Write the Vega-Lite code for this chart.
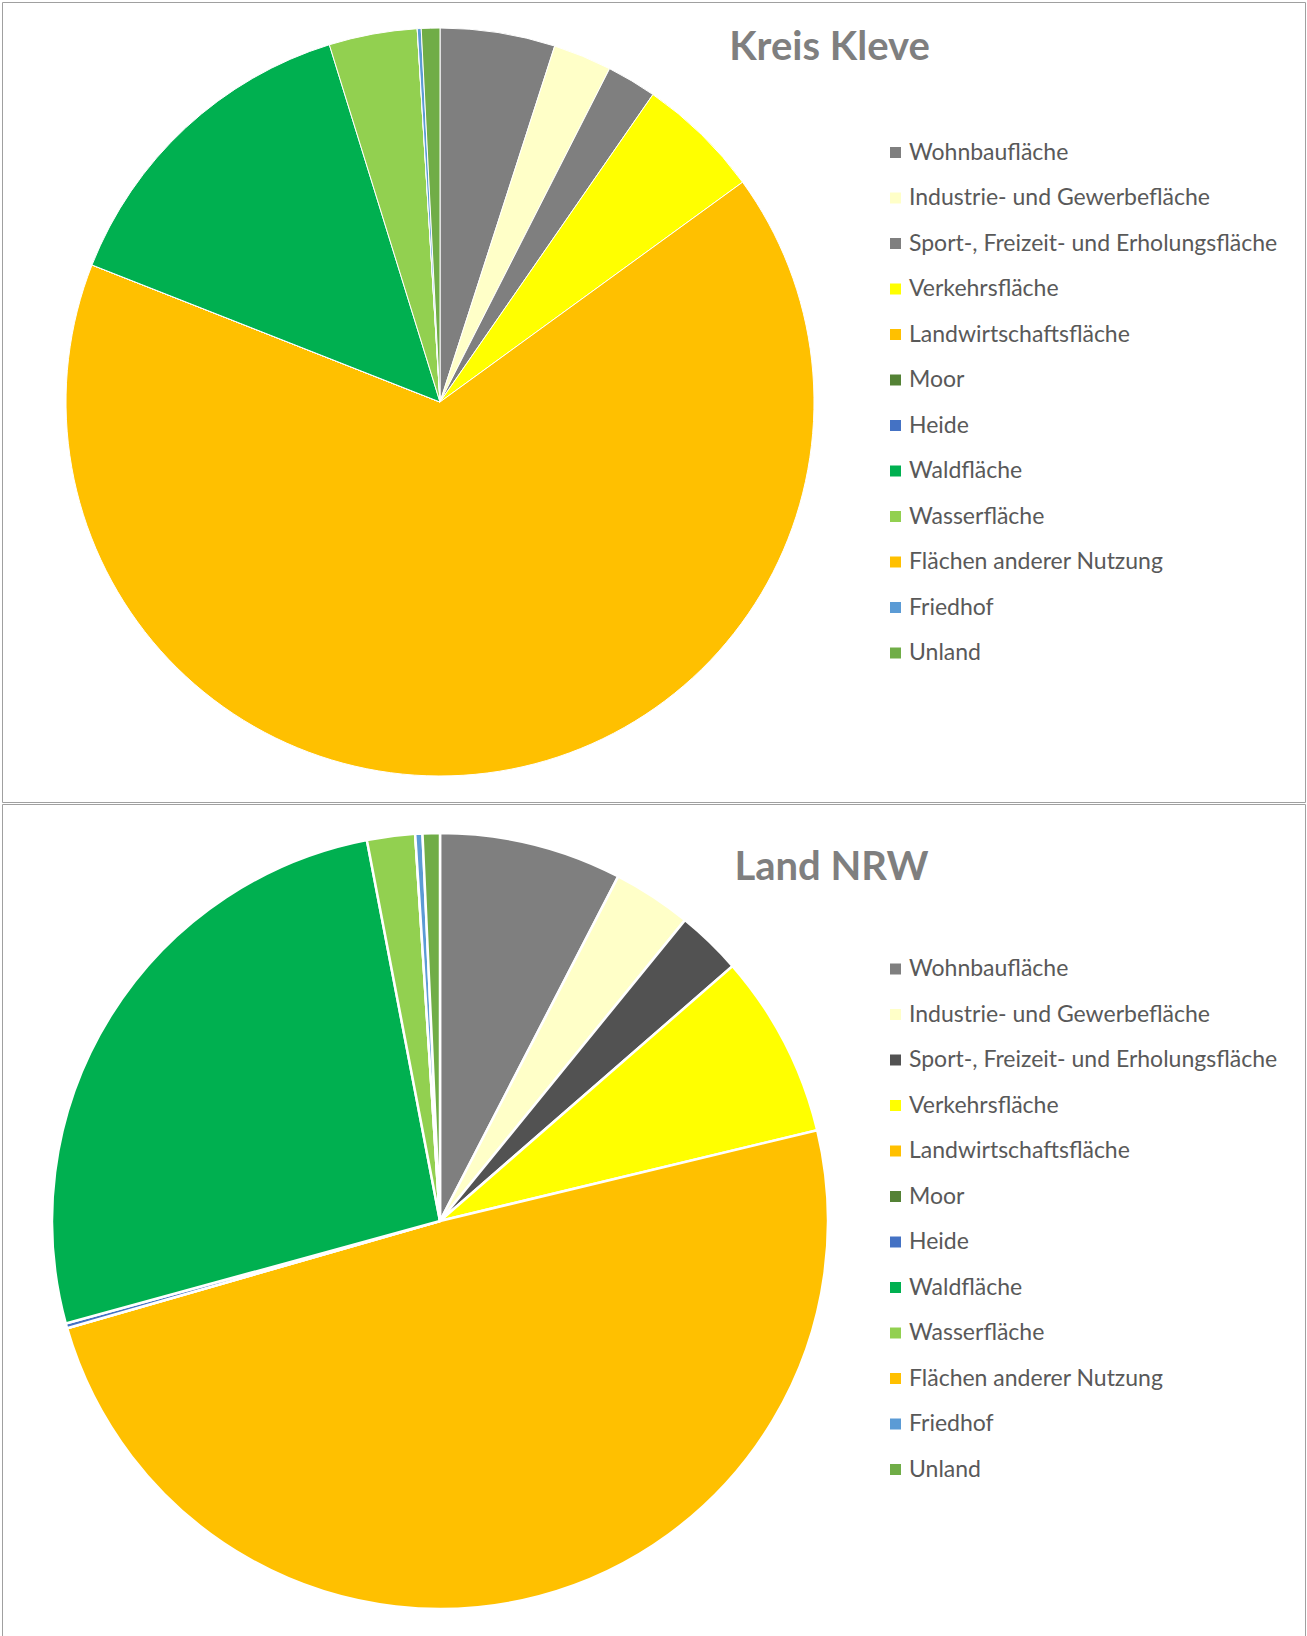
{
  "$schema": "https://vega.github.io/schema/vega-lite/v6.json",
  "description": "Flächennutzung Kreis Kleve und Land NRW, Anteile in Prozent.",
  "padding": 1,
  "background": "white",
  "data": {
    "values": [
      {"region": "Kreis Kleve", "ord": 1, "nutzung": "Wohnbaufläche", "anteil": 4.96},
      {"region": "Kreis Kleve", "ord": 2, "nutzung": "Industrie- und Gewerbefläche", "anteil": 2.53},
      {"region": "Kreis Kleve", "ord": 3, "nutzung": "Sport-, Freizeit- und Erholungsfläche", "anteil": 2.15},
      {"region": "Kreis Kleve", "ord": 4, "nutzung": "Verkehrsfläche", "anteil": 5.36},
      {"region": "Kreis Kleve", "ord": 5, "nutzung": "Landwirtschaftsfläche", "anteil": 65.97},
      {"region": "Kreis Kleve", "ord": 6, "nutzung": "Moor", "anteil": 0},
      {"region": "Kreis Kleve", "ord": 7, "nutzung": "Heide", "anteil": 0},
      {"region": "Kreis Kleve", "ord": 8, "nutzung": "Waldfläche", "anteil": 14.25},
      {"region": "Kreis Kleve", "ord": 9, "nutzung": "Wasserfläche", "anteil": 3.81},
      {"region": "Kreis Kleve", "ord": 10, "nutzung": "Flächen anderer Nutzung", "anteil": 0},
      {"region": "Kreis Kleve", "ord": 11, "nutzung": "Friedhof", "anteil": 0.17},
      {"region": "Kreis Kleve", "ord": 12, "nutzung": "Unland", "anteil": 0.8},
      {"region": "Land NRW", "ord": 1, "nutzung": "Wohnbaufläche", "anteil": 7.6},
      {"region": "Land NRW", "ord": 2, "nutzung": "Industrie- und Gewerbefläche", "anteil": 3.28},
      {"region": "Land NRW", "ord": 3, "nutzung": "Sport-, Freizeit- und Erholungsfläche", "anteil": 2.72},
      {"region": "Land NRW", "ord": 4, "nutzung": "Verkehrsfläche", "anteil": 7.65},
      {"region": "Land NRW", "ord": 5, "nutzung": "Landwirtschaftsfläche", "anteil": 49.33},
      {"region": "Land NRW", "ord": 6, "nutzung": "Moor", "anteil": 0},
      {"region": "Land NRW", "ord": 7, "nutzung": "Heide", "anteil": 0.2},
      {"region": "Land NRW", "ord": 8, "nutzung": "Waldfläche", "anteil": 26.25},
      {"region": "Land NRW", "ord": 9, "nutzung": "Wasserfläche", "anteil": 2.0},
      {"region": "Land NRW", "ord": 10, "nutzung": "Flächen anderer Nutzung", "anteil": 0},
      {"region": "Land NRW", "ord": 11, "nutzung": "Friedhof", "anteil": 0.3},
      {"region": "Land NRW", "ord": 12, "nutzung": "Unland", "anteil": 0.72}
    ]
  },
  "spacing": 0,
  "vconcat": [
    {
      "width": 1303,
      "height": 800,
      "title": {
        "text": "Kreis Kleve",
        "anchor": "middle",
        "frame": "group",
        "baseline": "alphabetic",
        "offset": -98,
        "dx": 176,
        "font": "Lato",
        "fontSize": 40,
        "fontWeight": "bold",
        "color": "#7f7f7f"
      },
      "transform": [{"filter": "datum.region === 'Kreis Kleve'"}],
      "mark": {"type": "arc", "radius": 374, "stroke": "white", "strokeWidth": 1},
      "encoding": {
        "x": {"datum": 438, "type": "quantitative", "scale": {"domain": [0, 1303]}, "axis": null},
        "theta": {"field": "anteil", "type": "quantitative", "stack": true},
        "order": {"field": "ord", "type": "quantitative"},
        "color": {
          "field": "nutzung",
          "type": "nominal",
          "sort": null,
          "scale": {
            "domain": ["Wohnbaufläche", "Industrie- und Gewerbefläche", "Sport-, Freizeit- und Erholungsfläche", "Verkehrsfläche", "Landwirtschaftsfläche", "Moor", "Heide", "Waldfläche", "Wasserfläche", "Flächen anderer Nutzung", "Friedhof", "Unland"],
            "range": ["#7f7f7f", "#ffffc8", "#7f7f7f", "#ffff00", "#ffc000", "#548235", "#4472c4", "#00b050", "#92d050", "#ffc000", "#5b9bd5", "#70ad47"]
          },
          "legend": {"orient": "none", "legendX": 882, "legendY": 139}
        }
      }
    },
    {
      "width": 1303,
      "height": 834,
      "title": {
        "text": "Land NRW",
        "anchor": "middle",
        "frame": "group",
        "baseline": "alphabetic",
        "offset": -116,
        "dx": 178,
        "font": "Lato",
        "fontSize": 40,
        "fontWeight": "bold",
        "color": "#7f7f7f"
      },
      "transform": [{"filter": "datum.region === 'Land NRW'"}],
      "mark": {"type": "arc", "radius": 388, "stroke": "white", "strokeWidth": 2.5},
      "encoding": {
        "x": {"datum": 438, "type": "quantitative", "scale": {"domain": [0, 1303]}, "axis": null},
        "theta": {"field": "anteil", "type": "quantitative", "stack": true},
        "order": {"field": "ord", "type": "quantitative"},
        "color": {
          "field": "nutzung",
          "type": "nominal",
          "sort": null,
          "scale": {
            "domain": ["Wohnbaufläche", "Industrie- und Gewerbefläche", "Sport-, Freizeit- und Erholungsfläche", "Verkehrsfläche", "Landwirtschaftsfläche", "Moor", "Heide", "Waldfläche", "Wasserfläche", "Flächen anderer Nutzung", "Friedhof", "Unland"],
            "range": ["#7f7f7f", "#ffffc8", "#525252", "#ffff00", "#ffc000", "#548235", "#4472c4", "#00b050", "#92d050", "#ffc000", "#5b9bd5", "#70ad47"]
          },
          "legend": {"orient": "none", "legendX": 882, "legendY": 153.5}
        }
      }
    }
  ],
  "resolve": {"scale": {"color": "independent"}, "legend": {"color": "independent"}},
  "config": {
    "view": {"stroke": "#a0a0a0", "strokeWidth": 1},
    "legend": {
      "title": null,
      "padding": 0,
      "symbolType": "square",
      "symbolSize": 121,
      "symbolStrokeWidth": 0,
      "labelFont": "Lato",
      "labelFontSize": 23,
      "labelColor": "#595959",
      "labelOffset": 2,
      "rowPadding": 21.5,
      "labelLimit": 500
    }
  }
}
